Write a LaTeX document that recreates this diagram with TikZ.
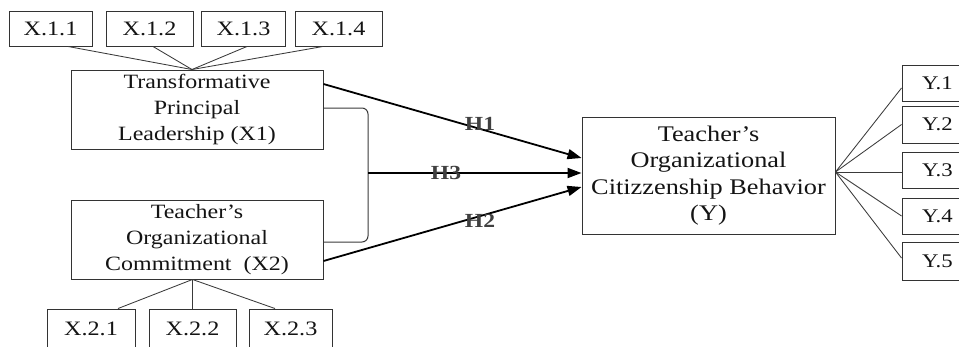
\documentclass[tikz,border=0pt]{standalone}
\usepackage{fontspec}
\setmainfont[FakeStretch=1.18]{Liberation Serif}
\usetikzlibrary{arrows.meta,calc}
\definecolor{boxgray}{HTML}{333333}
\definecolor{linegray}{HTML}{3A3A3A}
\definecolor{txt}{HTML}{141414}
\begin{document}
\begin{tikzpicture}[x=1pt,y=-1pt,
  box/.style={draw=boxgray, line width=0.95pt, inner sep=0pt, align=center, text=txt},
  bigbox/.style={box, minimum width=252pt, minimum height=79pt,
    font=\fontsize{20.3}{26}\selectfont},
  ybox/.style={box, minimum width=253pt, minimum height=117pt,
    font=\fontsize{22.3}{26.5}\selectfont},
  xind/.style={box, minimum height=35pt, font=\fontsize{20.5}{24}\selectfont},
  xindb/.style={box, minimum height=40pt, font=\fontsize{20.5}{24}\selectfont},
  yind/.style={box, minimum width=71pt, font=\fontsize{19.3}{22}\selectfont},
  thin/.style={draw=linegray, line width=0.85pt},
  hyp/.style={draw=black, line width=1.8pt, -{Triangle[length=14pt,width=10pt]}},
  hlab/.style={font=\bfseries\fontsize{20}{22}\selectfont, text=black!75, inner sep=0pt}]
\useasboundingbox (0,0) rectangle (959,346);
\begin{scope}
\clip (0,11.8) rectangle (959,346);
% main constructs
\node[bigbox] (x1) at (197,109.5) {Transformative\\Principal\\Leadership (X1)};
\node[bigbox] (x2) at (197,239.5) {Teacher’s\\Organizational\\Commitment~~(X2)};
\node[ybox] (y) at (708.5,175.5) {Teacher’s\\Organizational\\Citizzenship Behavior\\(Y)};
% X1 indicators
\node[xind, minimum width=83pt] (x11) at (50.5,28.5) {X.1.1};
\node[xind, minimum width=87pt] (x12) at (149.5,28.5) {X.1.2};
\node[xind, minimum width=84pt] (x13) at (243.5,28.5) {X.1.3};
\node[xind, minimum width=87pt] (x14) at (338.5,28.5) {X.1.4};
% X2 indicators
\node[xindb, minimum width=88pt] (x21) at (91,329) {X.2.1};
\node[xindb, minimum width=87pt] (x22) at (192.5,329) {X.2.2};
\node[xindb, minimum width=83pt] (x23) at (290.5,329) {X.2.3};
% Y indicators
\node[yind, minimum height=36pt] (y1) at (937.5,83) {Y.1};
\node[yind, minimum height=37pt] (y2) at (937.5,124.5) {Y.2};
\node[yind, minimum height=36pt] (y3) at (937.5,170) {Y.3};
\node[yind, minimum height=36pt] (y4) at (937.5,216) {Y.4};
\node[yind, minimum height=38pt] (y5) at (937.5,261) {Y.5};
% indicator links
\coordinate (x1top) at ([xshift=-5pt]x1.north);
\draw[thin] ([xshift=17.5pt]x11.south) -- (x1top);
\draw[thin] ([xshift=3.5pt]x12.south) -- (x1top);
\draw[thin] ([xshift=3.5pt]x13.south) -- (x1top);
\draw[thin] ([xshift=-15.5pt]x14.south) -- (x1top);
\coordinate (x2bot) at ([xshift=-4.5pt]x2.south);
\draw[thin] (x2bot) -- ([xshift=27pt]x21.north);
\draw[thin] (x2bot) -- (x22.north);
\draw[thin] (x2bot) -- ([xshift=-15.5pt]x23.north);
\coordinate (yr) at ([yshift=3.5pt]y.east);
\draw[thin] (yr) -- ([yshift=-5pt]y1.west);
\draw[thin] (yr) -- (y2.west);
\draw[thin] (yr) -- ([yshift=-2pt]y3.west);
\draw[thin] (yr) -- (y4.west);
\draw[thin] (yr) -- ([yshift=3pt]y5.west);
% bracket for interaction
\coordinate (br) at (368,173);
\draw[thin, line width=1pt, rounded corners=6pt] ([yshift=1.5pt]x1.east) -- (368,108) -- (368,242) -- ([yshift=-2.5pt]x2.east);
% hypotheses
\draw[hyp] ([yshift=25.5pt]x1.east) -- ([yshift=17.5pt]y.west);
\draw[hyp] (br) -- ([yshift=2.5pt]y.west);
\draw[hyp] ([yshift=-21.5pt]x2.east) -- ([yshift=-11.5pt]y.west);
\node[hlab] (h1) at (480,124) {H1};
\node[hlab] (h3) at (446,173) {H3};
\node[hlab] (h2) at (480,221) {H2};
\end{scope}
\end{tikzpicture}
\end{document}
